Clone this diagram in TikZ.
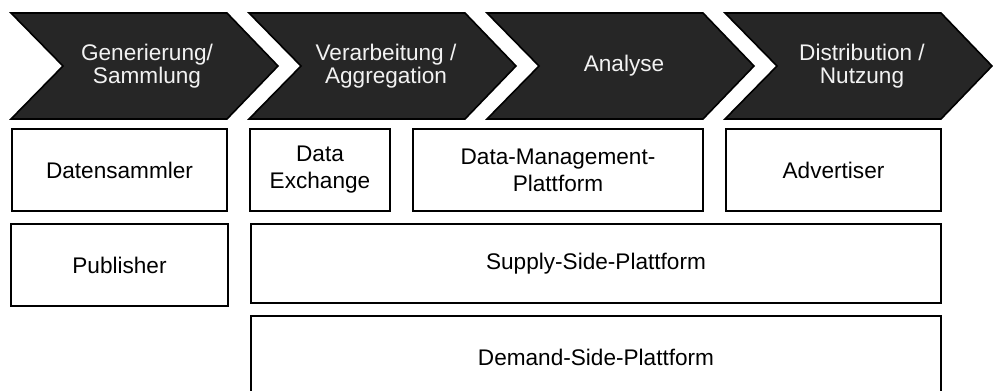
\documentclass[tikz,border=0pt]{standalone}
\usepackage{fontspec}
\setmainfont{Liberation Sans}

\definecolor{phasedark}{HTML}{262626}
\definecolor{phasetext}{HTML}{F2F2F2}

\tikzset{
  phase/.style={draw=black, line width=0.8pt, fill=phasedark},
  phaselabel/.style={text=phasetext, align=center, font=\fontsize{11.3}{11.5}\selectfont},
  player/.style={draw=black, line width=1pt, fill=white, align=center, inner sep=0pt, outer sep=0pt,
    minimum height=41pt, font=\fontsize{11.3}{13.5}\selectfont},
}

\begin{document}
\begin{tikzpicture}[x=0.5pt, y=-0.5pt]
    \useasboundingbox (0,0) rectangle (993,391);

    % value chain
    \foreach \i [evaluate=\i as \x using 11+238*\i] in {0,...,3}
      \draw[phase] (\x,13) -- ++(216,0) -- ++(51,53) -- ++(-51,53) -- ++(-216,0) -- ++(52,-53) -- cycle;

    \node[phaselabel] (gen)  at (147,66) {Generierung/\\Sammlung};
    \node[phaselabel] (agg)  at (386,66) {Verarbeitung /\\Aggregation};
    \node[phaselabel] (ana)  at (624,66) {Analyse};
    \node[phaselabel] (dist) at (862,66) {Distribution /\\Nutzung};

    % players
    \node[player, minimum width=107.5pt] (sammler)  at (119.5,170) {Datensammler};
    \node[player, minimum width=70pt]    (exchange) at (320,170)   {Data\\Exchange};
    \node[player, minimum width=145pt]   (dmp)      at (558,170)   {Data-Management-\\Plattform};
    \node[player, minimum width=107.5pt] (adv)      at (833.5,170) {Advertiser};

    \node[player, minimum width=108.5pt] (pub) at (119.5,265) {Publisher};
    \node[player, minimum width=345pt, minimum height=39.5pt] (ssp) at (596,263.5) {Supply-Side-Plattform};
    \node[player, minimum width=345pt] (dsp) at (596,357) {Demand-Side-Plattform};
\end{tikzpicture}
\end{document}
